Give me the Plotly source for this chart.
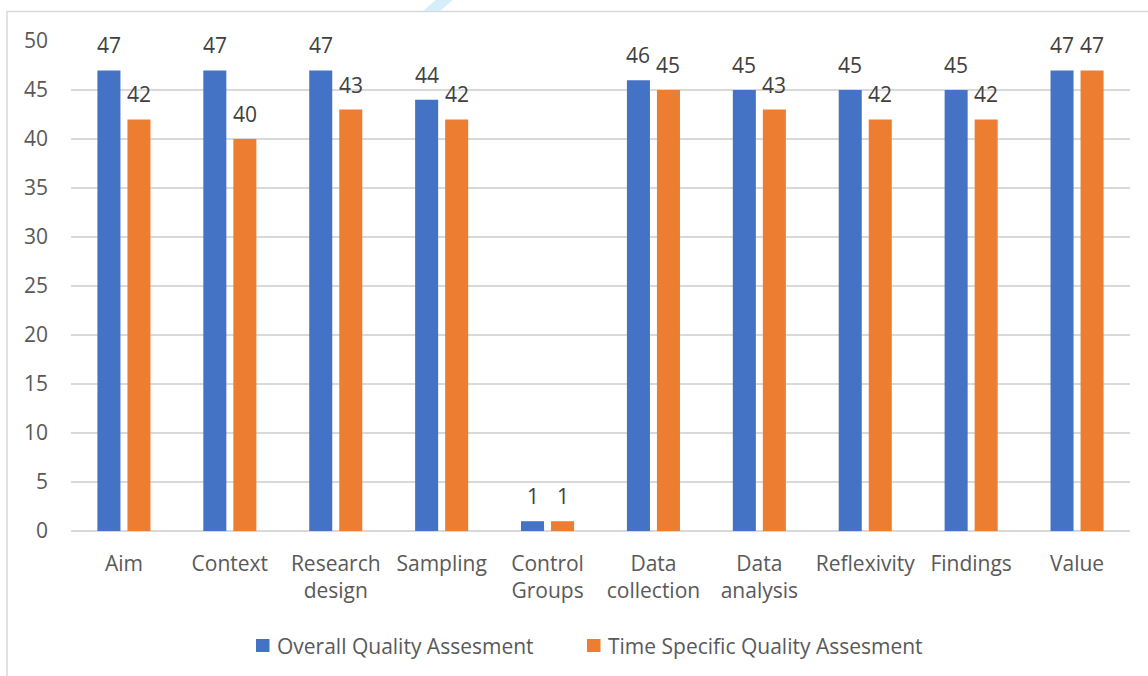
import plotly.graph_objects as go

categories = ["Aim", "Context", "Research<br>design", "Sampling", "Control<br>Groups",
              "Data<br>collection", "Data<br>analysis", "Reflexivity", "Findings", "Value"]
overall = [47, 47, 47, 44, 1, 46, 45, 45, 45, 47]
time_specific = [42, 40, 43, 42, 1, 45, 43, 42, 42, 47]
series_names = ["Overall Quality Assesment", "Time Specific Quality Assesment"]
y_ticks = [0, 5, 10, 15, 20, 25, 30, 35, 40, 45, 50]

BLUE = "#4472C4"
ORANGE = "#ED7D31"
FONT = "Open Sans"
FS = 21

W, H = 1148, 676
L, R, T, B = 71, 1130, 41, 531

def px(x):
    return (x - L) / (R - L)

def py(y):
    return (B - y) / (B - T)

fig = go.Figure()
fig.add_trace(go.Bar(x=categories, y=overall, name=series_names[0], showlegend=False,
                     marker=dict(color=BLUE, line=dict(width=0))))
fig.add_trace(go.Bar(x=categories, y=time_specific, name=series_names[1], showlegend=False,
                     marker=dict(color=ORANGE, line=dict(width=0))))

annotations = []
for c, v in zip(categories, overall):
    annotations.append(dict(x=c, y=v, text=str(v), showarrow=False, xref="x", yref="y",
                            xshift=-15, yshift=9, yanchor="bottom",
                            font=dict(family=FONT, size=FS, color="#404040")))
for c, v in zip(categories, time_specific):
    annotations.append(dict(x=c, y=v, text=str(v), showarrow=False, xref="x", yref="y",
                            xshift=15, yshift=9, yanchor="bottom",
                            font=dict(family=FONT, size=FS, color="#404040")))

# manual legend
legend_items = [(256, BLUE, series_names[0]), (587, ORANGE, series_names[1])]
shapes = [
    dict(type="rect", xref="paper", yref="paper",
         x0=px(7), x1=px(1170), y0=py(11.5), y1=py(700),
         line=dict(color="#d9d9d9", width=1.5), fillcolor="rgba(0,0,0,0)", layer="below"),
    dict(type="path", xref="paper", yref="paper",
         path=f"M{px(423)},{py(11)} L{px(440)},{py(11)} L{px(455)},{py(-2)} L{px(438)},{py(-2)} Z",
         fillcolor="#d4eefa", line=dict(width=0)),
]
for x0, col, name in legend_items:
    shapes.append(dict(type="rect", xref="paper", yref="paper",
                       x0=px(x0), x1=px(x0 + 13.5), y0=py(652), y1=py(639),
                       fillcolor=col, line=dict(width=0)))
    annotations.append(dict(x=px(x0 + 19), y=py(645.5), xref="paper", yref="paper",
                            text=name, showarrow=False, xanchor="left", yanchor="middle",
                            font=dict(family=FONT, size=FS, color="#595959")))

fig.update_layout(
    width=W, height=H,
    margin=dict(l=L, r=W - R, t=T, b=H - B),
    paper_bgcolor="white", plot_bgcolor="white",
    barmode="group", bargap=0.433, bargroupgap=0.233,
    font=dict(family=FONT, size=FS, color="#595959"),
    showlegend=False,
    xaxis=dict(type="category", range=[-0.5, 9.5], showgrid=False, showline=False,
               ticks="", tickfont=dict(size=FS, color="#595959"), tickangle=0,
               ticklabelstandoff=18),
    yaxis=dict(range=[0, 50], tickvals=y_ticks, showgrid=True, gridcolor="#d9d9d9",
               gridwidth=1.5, zeroline=True, zerolinecolor="#d9d9d9", zerolinewidth=1.5,
               showline=False, ticks="", tickfont=dict(size=FS, color="#595959"),
               ticklabelstandoff=22),
    annotations=annotations,
    shapes=shapes,
)

fig.write_html("out.html")
